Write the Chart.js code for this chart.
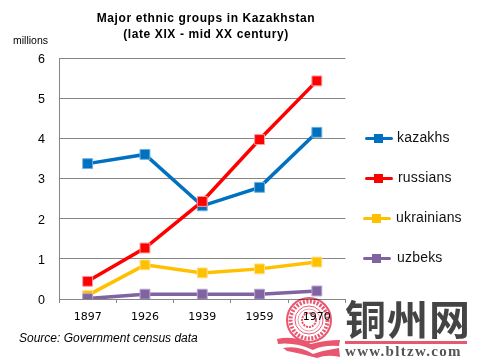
<!DOCTYPE html>
<html lang="en">
  <head>
    <meta charset="UTF-8" />
    <title>Major ethnic groups in Kazakhstan</title>
    <style>
      html, body { margin: 0; padding: 0; background: #fff; }
      body { width: 480px; height: 364px; position: relative; overflow: hidden; font-family: "Liberation Sans", Arial, sans-serif; }
      canvas { position: absolute; left: 0; top: 0; }
      .label { position: absolute; white-space: nowrap; color: #000; }
      #title { left: 76px; width: 260px; top: 10px; text-align: center; font-weight: bold; font-size: 12px; line-height: 16px; letter-spacing: 0.6px; }
      #unit { left: 13px; top: 34px; font-size: 10.5px; }
      #source { left: 19px; top: 331px; font-size: 12px; font-style: italic; }
      .key { position: absolute; width: 28px; height: 3px; border-radius: 2px; }
      .key i { position: absolute; left: 9px; top: -3px; width: 9px; height: 9px; background: inherit; }
      .name { position: absolute; font-size: 14px; line-height: 16px; color: #111; letter-spacing: 0.2px; }
      #wm1 { left: 345px; top: 287px; font: bold 41px "Noto Sans CJK SC", sans-serif; color: #444; letter-spacing: 1px; }
      #wmline { position: absolute; left: 345px; top: 341px; width: 122px; height: 3px; background: #e8566f; }
      #wm2 { left: 345px; top: 343px; font: bold 15px "Liberation Serif", serif; color: #555; letter-spacing: 1.3px; }
      #seal { position: absolute; left: 275px; top: 295px; mix-blend-mode: multiply; }
    </style>
  </head>
  <body>
    <canvas id="chart" width="480" height="364"></canvas>
    <div class="label" id="title">Major ethnic groups in Kazakhstan<br />(late XIX - mid XX century)</div>
    <div class="label" id="unit">millions</div>
    <div class="label" id="source">Source: Government census data</div>
    <div id="legend"></div>

    <!-- site watermark from the picture -->
    <svg id="seal" width="70" height="65" viewBox="0 0 70 65">
      <circle cx="34" cy="25" r="22" fill="none" stroke="#e8566f" stroke-width="2" />
      <circle cx="34" cy="25" r="18.5" fill="none" stroke="#e8566f" stroke-width="4" stroke-dasharray="2 1.5" />
      <circle cx="34" cy="25" r="14" fill="none" stroke="#e8566f" stroke-width="1" />
      <circle cx="34" cy="25" r="11" fill="none" stroke="#f09aaa" stroke-width="1" />
      <circle cx="34" cy="25" r="7" fill="none" stroke="#e8566f" stroke-width="2" stroke-dasharray="2 1" />
      <g transform="translate(0 3)">
        <path d="M2 41 Q20 37 36 46 Q50 42 65 42 L64 48 Q48 47 38 52 Q20 44 3 46 Z" fill="#e8566f" />
        <path d="M8 50 Q24 47 38 56 Q50 52 64 50 L65 59 Q52 56 42 60 Q24 55 12 53 Z" fill="#e8566f" />
      </g>
    </svg>
    <div class="label" id="wm1">铜州网</div>
    <div id="wmline"></div>
    <div class="label" id="wm2">www.bltzw.com</div>

    <script src="https://cdn.jsdelivr.net/npm/chart.js"></script>
    <script>
      const years = ["1897", "1926", "1939", "1959", "1970"];
      const kazakhs = [3.37, 3.6, 2.32, 2.78, 4.15];
      const russians = [0.44, 1.27, 2.43, 3.97, 5.43];
      const ukrainians = [0.09, 0.85, 0.65, 0.75, 0.92];
      const uzbeks = [0.01, 0.12, 0.12, 0.12, 0.2];
      const seriesNames = ["kazakhs", "russians", "ukrainians", "uzbeks"];
      const seriesColors = ["#0070C0", "#FF0000", "#FFC000", "#8064A2"];
      const seriesHalos = ["#6fb0de", "#ff9a9a", "#ffe08a", "#b7a5cd"];
      const seriesValues = [kazakhs, russians, ukrainians, uzbeks];

      // legend rows sit a little unevenly in the original
      const legendRows = [
        { y: 138, lineX: 365, textX: 397 },
        { y: 178, lineX: 365, textX: 398 },
        { y: 218, lineX: 363, textX: 396 },
        { y: 258, lineX: 363, textX: 397 },
      ];
      const legend = document.getElementById("legend");
      seriesNames.forEach((name, i) => {
        const row = legendRows[i];
        legend.insertAdjacentHTML(
          "beforeend",
          `<div class="key" style="left:${row.lineX}px;top:${row.y - 1}px;background:${seriesColors[i]}"><i></i></div>` +
            `<div class="name" style="left:${row.textX}px;top:${row.y - 9}px">${name}</div>`
        );
      });

      const gridGray = "#868686";

      new Chart(document.getElementById("chart").getContext("2d"), {
        type: "line",
        data: {
          labels: years,
          datasets: seriesNames.map((name, i) => ({
            label: name,
            data: seriesValues[i],
            borderColor: seriesColors[i],
            backgroundColor: seriesColors[i],
            borderWidth: 3.5,
            pointStyle: "rect",
            pointRadius: 7,
            pointBorderWidth: 1,
            pointBorderColor: seriesHalos[i],
            pointBackgroundColor: seriesColors[i],
            tension: 0,
            order: seriesNames.length - i,
          })),
        },
        options: {
          responsive: false,
          animation: false,
          layout: { padding: { left: 0, top: 58, right: 134.5, bottom: 0 } },
          plugins: { legend: { display: false }, title: { display: false }, tooltip: { enabled: false } },
          scales: {
            x: {
              offset: true,
              border: { color: gridGray, width: 1 },
              grid: { offset: true, drawOnChartArea: false, drawTicks: true, tickLength: 4, color: gridGray },
              ticks: { color: "#000", padding: 8, maxRotation: 0, font: { family: "DejaVu Sans", size: 11 } },
              afterFit: (scale) => { scale.height = 65; },
            },
            y: {
              min: 0,
              max: 6,
              border: { color: gridGray, width: 1 },
              grid: { color: gridGray, lineWidth: 1, drawTicks: false },
              ticks: { stepSize: 1, color: "#000", padding: 14, labelOffset: 1.5, font: { family: "Liberation Sans", size: 12.5 } },
              afterFit: (scale) => { scale.width = 59; },
            },
          },
        },
      });
    </script>
  </body>
</html>
